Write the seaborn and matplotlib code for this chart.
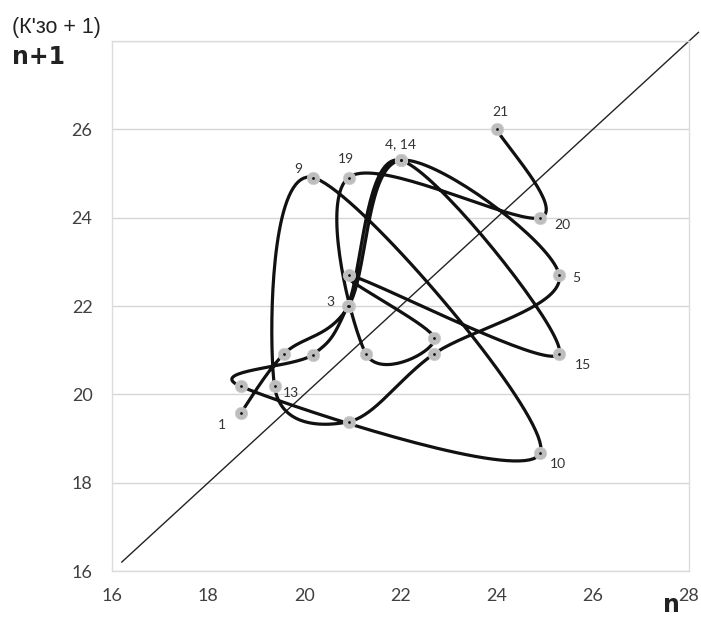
import matplotlib
matplotlib.use('Agg')
import matplotlib.pyplot as plt
import numpy as np
import seaborn as sns

# K'зо + 1 for each season n; point n = (K_n, K_n+1)
k_values = [18.68, 19.58, 20.92, 22.00, 25.30, 22.70, 20.92, 19.38, 20.18, 24.91, 18.68,
            20.18, 20.90, 22.00, 25.30, 20.92, 22.70, 21.28, 20.92, 24.91, 24.00, 26.00]

# numbered points and the labels written next to them
label_points = [1, 8, 3, 9, 19, 4, 21, 20, 5, 15, 10]
label_texts = ['1', '13', '3', '9', '19', '4, 14', '21', '20', '5', '15', '10']

x_ticks = [16, 18, 20, 22, 24, 26, 28]
y_ticks = [16, 18, 20, 22, 24, 26]
diag = [16.2, 28.2]

kx = np.array(k_values[:-1])
ky = np.array(k_values[1:])


def smooth(xs, ys, steps=40):
    # Catmull-Rom / Excel-like smoothed line through the points
    pts = np.column_stack([xs, ys])
    pad = np.vstack([pts[0], pts, pts[-1]])
    out = []
    t = np.linspace(0, 1, steps)[:, None]
    for i in range(1, len(pad) - 2):
        p0, p1, p2, p3 = pad[i - 1], pad[i], pad[i + 1], pad[i + 2]
        b1 = p1 + (p2 - p0) / 6
        b2 = p2 - (p3 - p1) / 6
        seg = ((1 - t) ** 3) * p1 + 3 * ((1 - t) ** 2) * t * b1 + 3 * (1 - t) * t ** 2 * b2 + t ** 3 * p2
        out.append(seg if i == 1 else seg[1:])
    out = np.vstack(out)
    return out[:, 0], out[:, 1]


sns.set_style('white')
plt.rcParams['font.family'] = ['Lato', 'DejaVu Sans']

fig = plt.figure(figsize=(7.01, 6.19), dpi=100)
ax = fig.add_axes([0.1598, 0.0775, 0.8231, 0.8562])

ax.set_xlim(16, 28)
ax.set_ylim(16, 28)
ax.set_yticks(list(range(16, 29, 2)))
ax.yaxis.grid(True, color='#d6d6d6', linewidth=1)
ax.xaxis.grid(False)
for s in ax.spines.values():
    s.set_color('#dcdcdc')
    s.set_linewidth(1)

# bisector
ax.plot(diag, diag, color='#222222', linewidth=1.0, clip_on=False, zorder=2)

sx, sy = smooth(kx, ky)
sns.lineplot(x=sx, y=sy, sort=False, estimator=None, color='#111111', linewidth=2.3, ax=ax, zorder=3)

sns.scatterplot(x=kx, y=ky, s=80, color='#bdbdbd', edgecolor='#cfcfcf', linewidth=0.5, ax=ax, zorder=4)
sns.scatterplot(x=kx, y=ky, s=4, color='#111111', linewidth=0, ax=ax, zorder=5)

offsets = {'1': (-13.5, -8.5), '13': (11.5, -4.5), '3': (-13, 3), '9': (-10.5, 6),
           '19': (-2, 13), '4, 14': (0, 11.5), '21': (3, 12.5), '20': (16, -5),
           '5': (12, -2), '15': (17, -8), '10': (12.5, -8.5)}
for pid, txt in zip(label_points, label_texts):
    ax.annotate(txt, (kx[pid - 1], ky[pid - 1]), xytext=offsets[txt], textcoords='offset points',
                ha='center', va='center', fontsize=10, color='#333333', zorder=6)

ax.set_xticks(x_ticks)
ax.set_xticklabels([str(v) for v in x_ticks])
ax.set_yticks(y_ticks, minor=False)
ax.set_yticklabels([str(v) for v in y_ticks])
# keep the top gridline at 28
ax.axhline(28, color='#d6d6d6', linewidth=1, zorder=1)
ax.tick_params(axis='both', length=0, labelsize=13, labelcolor='#404040')
ax.tick_params(axis='x', pad=12)
ax.tick_params(axis='y', pad=14)
ax.set_xlabel('')
ax.set_ylabel('')

fig.text(12 / 701, 1 - 27 / 619, "(К'зо + 1)", fontsize=15.5, family=['Liberation Sans', 'DejaVu Sans'],
         ha='left', va='center', color='#222222')
fig.text(12 / 701, 1 - 57 / 619, 'n+1', fontsize=17, fontweight='bold', family='DejaVu Sans',
         ha='left', va='center', color='#222222')
fig.text(671 / 701, 1 - 617 / 619, 'n', fontsize=17, fontweight='bold', family='DejaVu Sans',
         ha='center', va='bottom', color='#222222')

fig.savefig('out.png', dpi=100)
